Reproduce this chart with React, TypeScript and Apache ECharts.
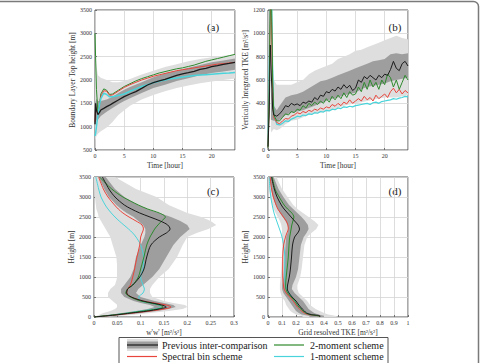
import { useEffect, useRef } from "react";
import * as echarts from "echarts";

const FONT = "Liberation Serif";
const C_PREV = "#1c1c1c";
const C_BIN = "#e8453c";
const C_TWO = "#2e8a2e";
const C_ONE = "#48d4da";
const BAND_DARK = "#9e9e9e";
const BAND_LIGHT = "#dedede";

// ---------- (a) Boundary layer top height [m] ----------
const timeA = [0, 0.1, 0.25, 0.5, 0.75, 1, 1.5, 2, 2.5, 3, 4, 5, 6, 7, 8, 9, 10, 11, 12, 13, 14, 15, 16, 17, 18, 19, 20, 21, 22, 23, 24];
const blhPrev = [1050, 1500, 1350, 1260, 1300, 1357, 1393, 1430, 1460, 1500, 1571, 1643, 1700, 1750, 1821, 1893, 1943, 1980, 2014, 2057, 2100, 2129, 2157, 2186, 2229, 2250, 2286, 2307, 2336, 2357, 2379];
const blhBin = [1100, 1400, 1350, 1280, 1450, 1650, 1770, 1760, 1670, 1680, 1760, 1840, 1900, 1950, 2000, 2040, 2080, 2110, 2140, 2170, 2200, 2220, 2240, 2260, 2280, 2300, 2320, 2340, 2350, 2365, 2380];
const blhTwo = [3000, 2500, 1800, 1300, 1450, 1700, 1810, 1780, 1690, 1700, 1780, 1860, 1920, 1980, 2030, 2070, 2110, 2150, 2180, 2210, 2240, 2260, 2290, 2320, 2360, 2400, 2430, 2460, 2490, 2520, 2550];
const blhOne = [800, 850, 1000, 1250, 1450, 1600, 1720, 1690, 1640, 1640, 1670, 1700, 1760, 1810, 1860, 1900, 1940, 1975, 2000, 2025, 2045, 2065, 2080, 2095, 2105, 2115, 2125, 2135, 2145, 2150, 2160];
const bandTimeA = [0, 0.25, 0.5, 1, 2, 3, 4, 5, 6, 8, 10, 12, 14, 16, 18, 20, 22, 24];
const blhStdLo = [1000, 1150, 1150, 1230, 1320, 1400, 1480, 1550, 1610, 1720, 1830, 1900, 1980, 2040, 2100, 2150, 2180, 2220];
const blhStdHi = [1500, 1600, 1550, 1550, 1580, 1640, 1720, 1790, 1850, 1950, 2060, 2140, 2200, 2260, 2320, 2380, 2420, 2460];
const blhMin = [700, 800, 850, 900, 980, 1100, 1250, 1350, 1450, 1580, 1680, 1760, 1830, 1880, 1930, 1970, 2000, 2030];
const blhMax = [2700, 2300, 2100, 2050, 2000, 1950, 1950, 1980, 2020, 2120, 2200, 2280, 2340, 2400, 2450, 2490, 2520, 2540];

// ---------- (b) Vertically integrated TKE [m2/s2] ----------
const timeB = [0, 0.2, 0.4, 0.6, 0.8, 1, 1.5, 2, 2.5, 3, 3.5, 4, 4.5, 5, 5.5, 6, 6.5, 7, 7.5, 8, 8.5, 9, 9.5, 10, 10.5, 11, 11.5, 12, 12.5, 13, 13.5, 14, 14.5, 15, 15.5, 16, 16.5, 17, 17.5, 18, 18.5, 19, 19.5, 20, 20.5, 21, 21.5, 22, 22.5, 23, 23.5, 24];
const tkePrev = [30, 300, 900, 600, 350, 300, 290, 310, 340, 380, 370, 400, 385, 395, 380, 410, 400, 420, 410, 450, 430, 470, 460, 500, 490, 520, 505, 540, 520, 560, 530, 555, 510, 530, 600, 580, 630, 610, 640, 620, 600, 640, 620, 650, 640, 690, 760, 700, 680, 740, 760, 720];
const tkeBin = [20, 400, 1250, 1100, 500, 280, 235, 225, 250, 270, 265, 290, 300, 320, 310, 330, 320, 340, 330, 350, 340, 360, 350, 370, 360, 390, 375, 400, 380, 410, 395, 430, 400, 420, 440, 420, 460, 430, 450, 420, 470, 440, 460, 480, 450, 500, 530, 490, 520, 480, 510, 490];
const tkeTwo = [20, 500, 1300, 1300, 600, 300, 250, 250, 280, 310, 300, 330, 320, 350, 340, 380, 360, 400, 380, 410, 390, 420, 400, 440, 410, 460, 430, 470, 440, 490, 450, 500, 470, 480, 540, 500, 580, 520, 600, 540, 580, 520, 600, 560, 650, 620, 540, 600, 520, 580, 640, 600];
const tkeOne = [20, 700, 1400, 1350, 700, 300, 220, 215, 230, 250, 245, 265, 275, 290, 285, 300, 295, 310, 305, 320, 315, 330, 325, 340, 335, 350, 345, 360, 355, 370, 365, 375, 370, 380, 385, 390, 395, 400, 390, 405, 410, 400, 415, 420, 425, 430, 440, 435, 445, 450, 460, 455];
const bandTimeB = [0.5, 1, 1.5, 2, 3, 4, 5, 6, 7, 8, 9, 10, 11, 12, 13, 14, 15, 16, 17, 18, 19, 20, 21, 22, 23, 24];
const tkeStdLo = [260, 250, 250, 260, 300, 320, 330, 340, 360, 380, 400, 420, 440, 450, 470, 480, 490, 520, 540, 550, 560, 570, 590, 600, 610, 620];
const tkeStdHi = [520, 380, 340, 380, 450, 470, 480, 500, 530, 560, 590, 600, 620, 640, 660, 680, 700, 720, 740, 760, 770, 780, 820, 830, 820, 830];
const tkeMin = [150, 180, 170, 180, 220, 250, 260, 280, 300, 310, 320, 330, 340, 360, 380, 390, 400, 410, 420, 430, 440, 450, 450, 450, 460, 470];
const tkeMax = [1100, 600, 560, 560, 560, 560, 580, 600, 650, 680, 700, 720, 740, 780, 800, 820, 850, 860, 880, 900, 920, 940, 960, 980, 960, 950];

// ---------- (c) w'w' profiles [m2/s2] ----------
const heightC = [0, 50, 100, 150, 200, 250, 300, 350, 400, 500, 600, 700, 800, 1000, 1200, 1500, 1800, 2000, 2100, 2200, 2300, 2400, 2500, 2600, 2700, 2800, 3000, 3200, 3500];
const wwPrev = [0, 0.045, 0.08, 0.115, 0.14, 0.155, 0.145, 0.125, 0.105, 0.08, 0.07, 0.072, 0.083, 0.098, 0.107, 0.113, 0.122, 0.14, 0.155, 0.163, 0.158, 0.142, 0.12, 0.098, 0.08, 0.065, 0.045, 0.032, 0.018];
const wwBin = [0, 0.045, 0.085, 0.12, 0.15, 0.165, 0.155, 0.13, 0.105, 0.08, 0.07, 0.072, 0.078, 0.083, 0.087, 0.092, 0.098, 0.1, 0.103, 0.106, 0.103, 0.09, 0.075, 0.062, 0.052, 0.044, 0.03, 0.02, 0.01];
const wwTwo = [0, 0.04, 0.075, 0.105, 0.135, 0.148, 0.14, 0.12, 0.1, 0.078, 0.068, 0.072, 0.083, 0.095, 0.1, 0.107, 0.113, 0.12, 0.125, 0.13, 0.137, 0.145, 0.153, 0.14, 0.115, 0.095, 0.062, 0.038, 0.012];
const wwOne = [0, 0.04, 0.072, 0.1, 0.13, 0.145, 0.138, 0.12, 0.1, 0.096, 0.105, 0.108, 0.105, 0.1, 0.105, 0.106, 0.1, 0.09, 0.083, 0.074, 0.064, 0.054, 0.045, 0.037, 0.03, 0.024, 0.015, 0.01, 0.004];
const wwStdLo = [0, 0.03, 0.06, 0.09, 0.115, 0.13, 0.12, 0.1, 0.085, 0.065, 0.058, 0.058, 0.065, 0.078, 0.085, 0.09, 0.1, 0.108, 0.11, 0.11, 0.105, 0.095, 0.085, 0.07, 0.058, 0.048, 0.032, 0.022, 0.01];
const wwStdHi = [0.01, 0.06, 0.1, 0.135, 0.16, 0.175, 0.17, 0.15, 0.13, 0.1, 0.09, 0.095, 0.105, 0.125, 0.14, 0.155, 0.17, 0.185, 0.195, 0.205, 0.2, 0.185, 0.165, 0.14, 0.115, 0.095, 0.065, 0.045, 0.025];
const wwMin = [0, 0.01, 0.02, 0.035, 0.045, 0.05, 0.05, 0.045, 0.04, 0.03, 0.03, 0.035, 0.045, 0.05, 0.05, 0.048, 0.04, 0.035, 0.03, 0.025, 0.02, 0.015, 0.01, 0.008, 0.005, 0.004, 0.002, 0.001, 0];
const wwMax = [0.01, 0.08, 0.12, 0.16, 0.19, 0.2, 0.195, 0.17, 0.15, 0.125, 0.12, 0.12, 0.125, 0.14, 0.16, 0.178, 0.19, 0.2, 0.22, 0.245, 0.262, 0.25, 0.23, 0.2, 0.18, 0.16, 0.134, 0.09, 0.045];

// ---------- (d) Grid resolved TKE profiles [m2/s2] ----------
const heightD = [0, 30, 60, 100, 150, 200, 250, 300, 400, 500, 600, 700, 800, 1000, 1200, 1500, 1800, 2000, 2100, 2200, 2300, 2400, 2500, 2600, 2700, 2800, 3000, 3200, 3500];
const rtkePrev = [0.37, 0.37, 0.31, 0.275, 0.26, 0.245, 0.232, 0.22, 0.2, 0.172, 0.15, 0.138, 0.14, 0.152, 0.16, 0.168, 0.175, 0.19, 0.212, 0.225, 0.215, 0.19, 0.165, 0.14, 0.115, 0.095, 0.065, 0.045, 0.025];
const rtkeBin = [0.37, 0.36, 0.29, 0.26, 0.24, 0.225, 0.21, 0.2, 0.18, 0.155, 0.13, 0.115, 0.11, 0.105, 0.105, 0.105, 0.112, 0.125, 0.135, 0.145, 0.142, 0.13, 0.11, 0.09, 0.07, 0.058, 0.038, 0.026, 0.015];
const rtkeTwo = [0.37, 0.36, 0.3, 0.27, 0.25, 0.235, 0.22, 0.21, 0.19, 0.165, 0.14, 0.128, 0.126, 0.13, 0.136, 0.145, 0.15, 0.155, 0.16, 0.165, 0.17, 0.178, 0.185, 0.17, 0.14, 0.115, 0.08, 0.05, 0.03];
const rtkeOne = [0.37, 0.36, 0.3, 0.27, 0.25, 0.235, 0.22, 0.21, 0.19, 0.17, 0.15, 0.135, 0.125, 0.12, 0.12, 0.12, 0.112, 0.1, 0.092, 0.082, 0.072, 0.062, 0.052, 0.043, 0.036, 0.03, 0.02, 0.014, 0.008];
const rtkeStdLo = [0.3, 0.29, 0.24, 0.22, 0.2, 0.19, 0.18, 0.17, 0.15, 0.13, 0.11, 0.1, 0.1, 0.11, 0.115, 0.12, 0.125, 0.13, 0.14, 0.145, 0.14, 0.125, 0.105, 0.085, 0.07, 0.055, 0.035, 0.022, 0.01];
const rtkeStdHi = [0.4, 0.4, 0.36, 0.33, 0.31, 0.29, 0.28, 0.27, 0.25, 0.22, 0.19, 0.17, 0.175, 0.2, 0.215, 0.225, 0.235, 0.255, 0.275, 0.29, 0.285, 0.265, 0.24, 0.21, 0.18, 0.15, 0.11, 0.075, 0.04];
const rtkeMin = [0.25, 0.24, 0.2, 0.18, 0.16, 0.15, 0.14, 0.13, 0.12, 0.1, 0.09, 0.085, 0.085, 0.09, 0.095, 0.1, 0.1, 0.1, 0.1, 0.1, 0.095, 0.085, 0.07, 0.055, 0.04, 0.03, 0.015, 0.008, 0];
const rtkeMax = [0.5, 0.48, 0.43, 0.4, 0.37, 0.34, 0.32, 0.3, 0.28, 0.25, 0.22, 0.21, 0.21, 0.23, 0.24, 0.25, 0.26, 0.28, 0.31, 0.345, 0.36, 0.33, 0.29, 0.25, 0.21, 0.18, 0.14, 0.1, 0.06];

// ---------- legend ----------
const legendNames = ["Previous inter-comparison", "Spectral bin scheme", "2-moment scheme", "1-moment scheme"];

type Pt = [number, number];

const series2 = (xs: number[], ys: number[]): Pt[] => xs.map((x, i) => [x, ys[i]]);
const profile = (vals: number[], hs: number[]): Pt[] => hs.map((h, i) => [vals[i], h]);

function timeBand(ts: number[], lo: number[], hi: number[]): Pt[] {
  const top = ts.map((t, i) => [t, hi[i]] as Pt);
  const bottom = ts.map((t, i) => [t, lo[i]] as Pt).reverse();
  return [...top, ...bottom];
}

function profileBand(hs: number[], lo: number[], hi: number[]): Pt[] {
  const right = hs.map((h, i) => [hi[i], h] as Pt);
  const left = hs.map((h, i) => [lo[i], h] as Pt).reverse();
  return [...right, ...left];
}

function band(idx: number, pts: Pt[], color: string, z: number) {
  return {
    type: "custom",
    coordinateSystem: "cartesian2d",
    xAxisIndex: idx,
    yAxisIndex: idx,
    silent: true,
    clip: true,
    z,
    data: [pts[0]],
    renderItem: (_p: any, api: any) => ({
      type: "polygon",
      shape: { points: pts.map((p) => api.coord(p)) },
      style: { fill: color, stroke: "none" },
    }),
  };
}

function line(idx: number, name: string, data: Pt[], color: string, width = 1, smooth: boolean | number = false) {
  return {
    type: "line",
    name,
    xAxisIndex: idx,
    yAxisIndex: idx,
    data,
    symbol: "none",
    showSymbol: false,
    smooth,
    silent: true,
    z: 5,
    lineStyle: { color, width },
  };
}

// plain tick numbers: no thousands separator, no float noise
const fmt = (v: number) => String(parseFloat(v.toFixed(4)));

const tickLabel = { fontFamily: FONT, fontSize: 6, color: "#333", margin: 3, formatter: fmt };
const nameStyle = { fontFamily: FONT, fontSize: 7.5, color: "#333", fontWeight: "normal" };
const split = { show: true, lineStyle: { color: "#d4d4d4", width: 0.8 } };
const tick = { show: true, inside: true, length: 2, lineStyle: { color: "#555", width: 0.8 } };

function xAxis(idx: number, min: number, max: number, interval: number, name: string, showMax: boolean) {
  return {
    type: "value",
    gridIndex: idx,
    min,
    max,
    interval,
    name,
    nameLocation: "middle",
    nameGap: 11,
    nameTextStyle: nameStyle,
    axisLine: { show: false },
    axisTick: tick,
    axisLabel: { ...tickLabel, showMaxLabel: showMax },
    splitLine: split,
  };
}

function yAxis(idx: number, min: number, max: number, interval: number, name: string, gap: number) {
  return {
    type: "value",
    gridIndex: idx,
    min,
    max,
    interval,
    name,
    nameLocation: "middle",
    nameRotate: 90,
    nameGap: gap,
    nameTextStyle: nameStyle,
    axisLine: { show: false },
    axisTick: tick,
    axisLabel: tickLabel,
    splitLine: split,
  };
}

function panelLabel(text: string, x: number, y: number) {
  return {
    type: "text",
    x,
    y,
    style: { text, fontFamily: FONT, fontSize: 11, fill: "#222", align: "center", verticalAlign: "middle" },
  };
}

function legendLine(x: number, y: number, color: string) {
  return { type: "line", shape: { x1: x, y1: y, x2: x + 30, y2: y }, style: { stroke: color, lineWidth: 1.2 } };
}

function legendText(text: string, x: number, y: number) {
  return {
    type: "text",
    x,
    y,
    style: { text, fontFamily: FONT, fontSize: 10, fill: "#222", align: "left", verticalAlign: "middle" },
  };
}

export default function App() {
  const ref = useRef<HTMLDivElement>(null);

  useEffect(() => {
    if (!ref.current) return;
    const chart = echarts.init(ref.current, undefined, { renderer: "svg" });

    const grids = [
      { left: 95, top: 10, width: 140, height: 140 },
      { left: 268, top: 10, width: 140, height: 140 },
      { left: 94, top: 177, width: 140, height: 140 },
      { left: 268, top: 177, width: 140, height: 140 },
    ].map((g) => ({ ...g, show: true, borderColor: "#555", borderWidth: 1, backgroundColor: "transparent" }));

    const option = {
      animation: false,
      grid: grids,
      xAxis: [
        xAxis(0, 0, 24, 5, "Time [hour]", false),
        xAxis(1, 0, 24, 5, "Time [hour]", false),
        xAxis(2, 0, 0.3, 0.05, "w'w' [m²/s²]", true),
        xAxis(3, 0, 1, 0.1, "Grid resolved TKE [m²/s²]", true),
      ],
      yAxis: [
        yAxis(0, 500, 3500, 500, "Boundary Layer Top height [m]", 17),
        yAxis(1, 0, 1200, 200, "Vertically Integrated TKE [m²/s²]", 16),
        yAxis(2, 0, 3500, 500, "Height [m]", 17),
        yAxis(3, 0, 3500, 500, "Height [m]", 17),
      ],
      series: [
        band(0, timeBand(bandTimeA, blhMin, blhMax), BAND_LIGHT, 1),
        band(0, timeBand(bandTimeA, blhStdLo, blhStdHi), BAND_DARK, 2),
        line(0, legendNames[2], series2(timeA, blhTwo), C_TWO),
        line(0, legendNames[1], series2(timeA, blhBin), C_BIN),
        line(0, legendNames[3], series2(timeA, blhOne), C_ONE, 1.5),
        line(0, legendNames[0], series2(timeA, blhPrev), C_PREV, 1.3),

        band(1, timeBand(bandTimeB, tkeMin, tkeMax), BAND_LIGHT, 1),
        band(1, timeBand(bandTimeB, tkeStdLo, tkeStdHi), BAND_DARK, 2),
        line(1, legendNames[3], series2(timeB, tkeOne), C_ONE, 1.2),
        line(1, legendNames[1], series2(timeB, tkeBin), C_BIN),
        line(1, legendNames[2], series2(timeB, tkeTwo), C_TWO),
        line(1, legendNames[0], series2(timeB, tkePrev), C_PREV),

        band(2, profileBand(heightC, wwMin, wwMax), BAND_LIGHT, 1),
        band(2, profileBand(heightC, wwStdLo, wwStdHi), BAND_DARK, 2),
        line(2, legendNames[3], profile(wwOne, heightC), C_ONE, 1, 0.3),
        line(2, legendNames[1], profile(wwBin, heightC), C_BIN, 1, 0.3),
        line(2, legendNames[2], profile(wwTwo, heightC), C_TWO, 1, 0.3),
        line(2, legendNames[0], profile(wwPrev, heightC), C_PREV, 1, 0.3),

        band(3, profileBand(heightD, rtkeMin, rtkeMax), BAND_LIGHT, 1),
        band(3, profileBand(heightD, rtkeStdLo, rtkeStdHi), BAND_DARK, 2),
        line(3, legendNames[3], profile(rtkeOne, heightD), C_ONE, 1, 0.3),
        line(3, legendNames[1], profile(rtkeBin, heightD), C_BIN, 1, 0.3),
        line(3, legendNames[2], profile(rtkeTwo, heightD), C_TWO, 1, 0.3),
        line(3, legendNames[0], profile(rtkePrev, heightD), C_PREV, 1, 0.3),
      ],
      graphic: [
        // outer figure frame
        {
          type: "rect",
          shape: { x: -10, y: 1.5, width: 488.5, height: 420, r: 5 },
          style: { fill: "none", stroke: "#7a7a7a", lineWidth: 1.5 },
          silent: true,
        },
        panelLabel("(a)", 213, 27),
        panelLabel("(b)", 395, 27),
        panelLabel("(c)", 213, 191),
        panelLabel("(d)", 395, 191),
        // legend box
        {
          type: "rect",
          shape: { x: 119, y: 337.5, width: 269, height: 26 },
          style: { fill: "#fff", stroke: "#555", lineWidth: 1 },
        },
        { type: "rect", shape: { x: 127, y: 339, width: 31, height: 12 }, style: { fill: BAND_LIGHT } },
        { type: "rect", shape: { x: 127, y: 341.5, width: 31, height: 7 }, style: { fill: BAND_DARK } },
        { type: "line", shape: { x1: 127, y1: 345, x2: 158, y2: 345 }, style: { stroke: C_PREV, lineWidth: 1.2 } },
        legendLine(127, 356.5, C_BIN),
        legendLine(274, 345, C_TWO),
        legendLine(274, 356.5, C_ONE),
        legendText(legendNames[0], 162, 345),
        legendText(legendNames[1], 162, 356.5),
        legendText(legendNames[2], 310, 345),
        legendText(legendNames[3], 310, 356.5),
      ],
    };

    chart.setOption(option as any);
    return () => chart.dispose();
  }, []);

  return (
    <div
      ref={ref}
      style={{ position: "fixed", left: 0, top: 0, width: 480, height: 363, background: "#fff" }}
    />
  );
}
